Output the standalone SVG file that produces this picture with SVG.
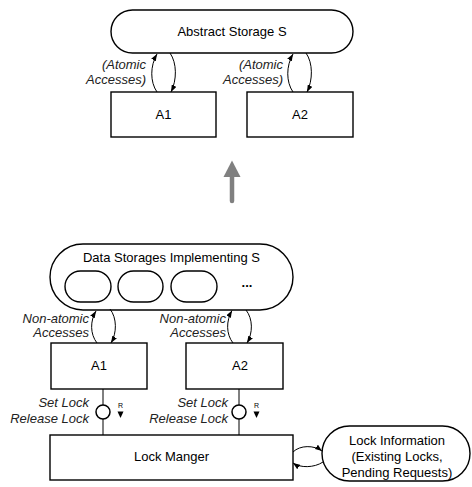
<svg xmlns="http://www.w3.org/2000/svg" width="472" height="487" viewBox="0 0 472 487">
  <style>
    .box { fill: #fff; stroke: #000; stroke-width: 1.4; }
    .conn { fill: none; stroke: #000; stroke-width: 1; }
    .lbl { font-family: "Liberation Sans", Arial, sans-serif; font-size: 13px; fill: #000; }
    .mid { text-anchor: middle; }
    .it { font-style: italic; text-anchor: end; fill: #222; }
    .tiny { font-family: "Liberation Sans", Arial, sans-serif; font-size: 7px; text-anchor: middle; }
  </style>
  <defs>
    <marker id="ah" viewBox="0 0 8 6" refX="8" refY="3" markerWidth="7" markerHeight="5.5" markerUnits="userSpaceOnUse" orient="auto">
      <path d="M0,0 L8,3 L0,6 z" fill="#000"/>
    </marker>
  </defs>

  <!-- upper level: abstract view -->
  <g id="abstract-storage">
    <rect class="box" x="111" y="10" width="242" height="43" rx="21.5"/>
    <text class="lbl mid" x="232" y="36">Abstract Storage S</text>
  </g>
  <g id="top-a1">
    <rect class="box" x="111" y="92" width="105" height="45"/>
    <text class="lbl mid" x="163.5" y="118.5">A1</text>
  </g>
  <g id="top-a2">
    <rect class="box" x="247" y="92" width="106" height="45"/>
    <text class="lbl mid" x="300" y="118.5">A2</text>
  </g>

  <!-- lower level: implementation -->
  <g id="data-storages">
    <rect class="box" x="50" y="244" width="243" height="66" rx="33"/>
    <text class="lbl mid" x="171.5" y="262">Data Storages Implementing S</text>
    <rect class="box" x="65" y="271" width="46" height="31" rx="15.5"/>
    <rect class="box" x="118" y="271" width="45" height="31" rx="15.5"/>
    <rect class="box" x="171" y="271" width="46" height="31" rx="15.5"/>
    <text class="lbl mid" x="247" y="287" font-size="10" font-weight="bold">...</text>
  </g>
  <g id="bottom-a1">
    <rect class="box" x="51" y="343" width="96" height="46"/>
    <text class="lbl mid" x="99" y="370">A1</text>
  </g>
  <g id="bottom-a2">
    <rect class="box" x="186" y="343" width="97" height="46"/>
    <text class="lbl mid" x="240" y="370">A2</text>
  </g>
  <g id="lock-manager">
    <rect class="box" x="50" y="435" width="243" height="45"/>
    <text class="lbl mid" x="171.5" y="461">Lock Manger</text>
  </g>
  <g id="lock-information">
    <rect class="box" x="322" y="426" width="148" height="55" rx="27.5"/>
    <text class="lbl mid" x="397" y="445">Lock Information</text>
    <text class="lbl mid" x="397" y="461">(Existing Locks,</text>
    <text class="lbl mid" x="397" y="477">Pending Requests)</text>
  </g>

  <!-- refinement arrow between the two levels -->
  <g id="refines">
    <line x1="232" y1="201" x2="232" y2="174" stroke="#808080" stroke-width="4.5" stroke-linecap="round"/>
    <polygon points="232,160.5 223.5,177 240.5,177" fill="#808080"/>
  </g>

  <g id="connectors">
    <!-- atomic accesses -->
    <path class="conn" d="M157,92 C150,82 150,66 157,54" marker-end="url(#ah)"/>
    <path class="conn" d="M170,53 C177,63 177,80 171,92" marker-end="url(#ah)"/>
    <path class="conn" d="M293,92 C286,82 286,66 293,54" marker-end="url(#ah)"/>
    <path class="conn" d="M306,53 C313,63 313,80 307,92" marker-end="url(#ah)"/>

    <!-- non-atomic accesses -->
    <path class="conn" d="M97,343 C90,334 90,321 96,311" marker-end="url(#ah)"/>
    <path class="conn" d="M110,309 C117,318 117,333 111,343" marker-end="url(#ah)"/>
    <path class="conn" d="M233,343 C226,334 226,321 232,310.5" marker-end="url(#ah)"/>
    <path class="conn" d="M246,310 C253,319 253,333 247,343" marker-end="url(#ah)"/>

    <!-- lock interfaces -->
    <line class="conn" x1="103" y1="389" x2="103" y2="435"/>
    <line class="conn" x1="239" y1="389" x2="239" y2="435"/>

    <!-- lock manager state -->
    <path class="conn" d="M293,452 C300,445 314,445 322,451" marker-end="url(#ah)"/>
    <path class="conn" d="M323,462 C314,468 300,468 293,463" marker-end="url(#ah)"/>
  </g>

  <g id="lock-interface-a1">
    <circle cx="103" cy="412" r="7" fill="#fff" stroke="#000" stroke-width="1.5"/>
    <text class="tiny" x="120.5" y="408">R</text>
    <polygon points="117.5,411.5 123.5,411.5 120.5,418" fill="#000"/>
  </g>
  <g id="lock-interface-a2">
    <circle cx="239" cy="412" r="7" fill="#fff" stroke="#000" stroke-width="1.5"/>
    <text class="tiny" x="256.5" y="408">R</text>
    <polygon points="253.5,411.5 259.5,411.5 256.5,418" fill="#000"/>
  </g>

  <g id="labels">
    <text class="lbl it" x="146" y="69">(Atomic</text>
    <text class="lbl it" x="146" y="84">Accesses)</text>
    <text class="lbl it" x="283" y="69">(Atomic</text>
    <text class="lbl it" x="283" y="84">Accesses)</text>
    <text class="lbl it" x="89" y="323">Non-atomic</text>
    <text class="lbl it" x="89" y="337">Accesses</text>
    <text class="lbl it" x="226" y="323">Non-atomic</text>
    <text class="lbl it" x="226" y="337">Accesses</text>
    <text class="lbl it" x="89" y="407">Set Lock</text>
    <text class="lbl it" x="89" y="423">Release Lock</text>
    <text class="lbl it" x="228" y="407">Set Lock</text>
    <text class="lbl it" x="228" y="423">Release Lock</text>
  </g>
</svg>
